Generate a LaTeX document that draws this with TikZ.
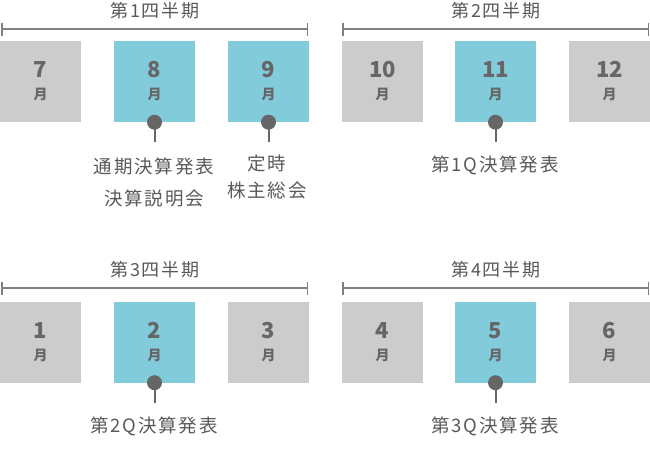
\documentclass[tikz,border=0pt]{standalone}
\usepackage{fontspec}
\setmainfont{Noto Sans CJK JP}
\newfontfamily\lblfont[LetterSpace=10]{Noto Sans CJK JP}
\usetikzlibrary{positioning,arrows.meta}

\definecolor{boxgray}{HTML}{CCCCCC}
\definecolor{boxblue}{HTML}{81CBDB}
\definecolor{inkgray}{HTML}{666666}
\definecolor{linegray}{HTML}{808080}
\definecolor{txtgray}{HTML}{595959}

\newcommand{\mnum}[1]{{\fontsize{22}{22}\selectfont #1}\\月}

\begin{document}
\begin{tikzpicture}[
        x=1pt, y=-1pt,
        month/.style={rectangle, fill=boxgray, minimum width=81pt, minimum height=81pt, inner sep=0pt, align=center, text=inkgray, font=\bfseries\fontsize{14}{22}\selectfont},
        hot/.style={month, fill=boxblue},
        pin/.style={circle, fill=inkgray, minimum size=15pt, inner sep=0pt},
        stem/.style={line width=2pt, draw=inkgray},
        span/.style={line width=2pt, draw=linegray, {Bar[width=13pt,line width=1.5pt]}-{Bar[width=13pt,line width=1.5pt]}},
        qtitle/.style={font=\lblfont\fontsize{18}{21}\selectfont, text=txtgray, inner sep=0pt},
        event/.style={font=\lblfont\fontsize{18.5}{21}\selectfont, text=txtgray, inner sep=0pt, align=center},
        >=Stealth
      ]

      \useasboundingbox (0,0) rectangle (650,450);

      % Quarter brackets
      \coordinate (q1l) at (1,29);   \coordinate (q1r) at (308,29);
      \coordinate (q2l) at (342,29); \coordinate (q2r) at (649,29);
      \coordinate (q3l) at (1,288);  \coordinate (q3r) at (308,288);
      \coordinate (q4l) at (342,288);\coordinate (q4r) at (649,288);
      \draw[span] (q1l) -- (q1r);
      \draw[span] (q2l) -- (q2r);
      \draw[span] (q3l) -- (q3r);
      \draw[span] (q4l) -- (q4r);

      % Quarter titles
      \node[qtitle] (t1) at (155,11) {第1四半期};
      \node[qtitle] (t2) at (496,11) {第2四半期};
      \node[qtitle] (t3) at (155,270) {第3四半期};
      \node[qtitle] (t4) at (496,270) {第4四半期};

      % Months, first row
      \node[month] (m7)  at (40.5,81.5)  {\mnum{7}};
      \node[hot]   (m8)  at (154.5,81.5) {\mnum{8}};
      \node[hot]   (m9)  at (268.5,81.5) {\mnum{9}};
      \node[month] (m10) at (382.5,81.5) {\mnum{10}};
      \node[hot]   (m11) at (495.5,81.5) {\mnum{11}};
      \node[month] (m12) at (609.5,81.5) {\mnum{12}};

      % Months, second row
      \node[month] (m1) at (40.5,342)  {\mnum{1}};
      \node[hot]   (m2) at (154.5,342) {\mnum{2}};
      \node[month] (m3) at (268.5,342) {\mnum{3}};
      \node[month] (m4) at (382.5,342) {\mnum{4}};
      \node[hot]   (m5) at (495.5,342) {\mnum{5}};
      \node[month] (m6) at (609.5,342) {\mnum{6}};

      % Event pins
      \node[pin] (p8)  at (m8.south)  {};
      \node[pin] (p9)  at (m9.south)  {};
      \node[pin] (p11) at (m11.south) {};
      \node[pin] (p2)  at (m2.south)  {};
      \node[pin] (p5)  at (m5.south)  {};

      \coordinate (s8)  at ([yshift=-20pt]p8.center);
      \coordinate (s9)  at ([yshift=-20pt]p9.center);
      \coordinate (s11) at ([yshift=-20pt]p11.center);
      \coordinate (s2)  at ([yshift=-20pt]p2.center);
      \coordinate (s5)  at ([yshift=-20pt]p5.center);

      \draw[stem] (p8.center) -- (s8);
      \draw[stem] (p9.center) -- (s9);
      \draw[stem] (p11.center) -- (s11);
      \draw[stem] (p2.center) -- (s2);
      \draw[stem] (p5.center) -- (s5);

      % Event labels
      \node[event] (e8a) at (154,166) {通期決算発表};
      \node[event] (e8b) at (154,198) {決算説明会};
      \node[event] (e9a) at (267,164) {定時};
      \node[event] (e9b) at (267,190) {株主総会};
      \node[event] (e11) at (495,165) {第1Q決算発表};
      \node[event] (e2)  at (154,426) {第2Q決算発表};
      \node[event] (e5)  at (495,426) {第3Q決算発表};

    \end{tikzpicture}
\end{document}
